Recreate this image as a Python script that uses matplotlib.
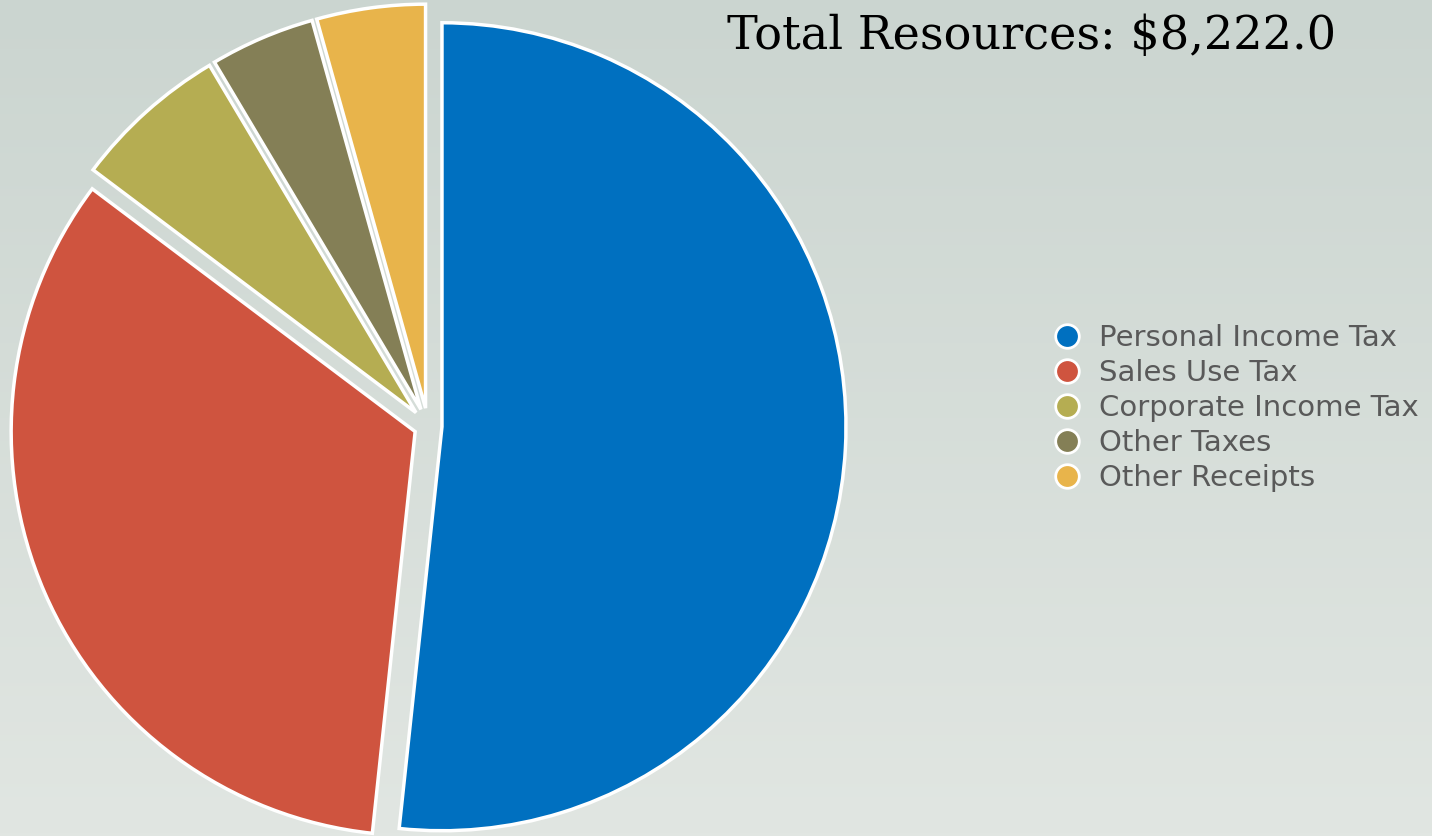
import numpy as np
import matplotlib
matplotlib.use("Agg")
import matplotlib.pyplot as plt
from matplotlib.lines import Line2D

# data (millions of $)
categories = ["Personal Income Tax", "Sales Use Tax", "Corporate Income Tax",
              "Other Taxes", "Other Receipts"]
values = [4250, 2760, 510, 345, 357]
colors = ["#0070C0", "#CF543F", "#B5AD52", "#847F56", "#E8B44B"]
total_label = "Total Resources: $8,222.0"

W, H = 1432, 836
fig = plt.figure(figsize=(W / 100, H / 100), dpi=100)

# background gradient
bg = fig.add_axes([0, 0, 1, 1], zorder=0)
top = np.array([0xCB, 0xD5, 0xD0]) / 255
bot = np.array([0xE1, 0xE6, 0xE2]) / 255
t = np.linspace(0, 1, 256)[:, None]
grad = top[None, :] * (1 - t) + bot[None, :] * t
bg.imshow(grad[:, None, :], aspect="auto", extent=[0, 1, 0, 1])
bg.axis("off")

# pie, in pixel units
ax = fig.add_axes([0, 0, 1, 1], zorder=1)
ax.patch.set_alpha(0)
wedges, _ = ax.pie(values, colors=colors, startangle=90, counterclock=False,
                   center=(428, H - 426), radius=404,
                   explode=[14, 14, 18, 18, 18],
                   wedgeprops=dict(edgecolor="white", linewidth=2.5))
ax.set_xlim(0, W)
ax.set_ylim(0, H)
ax.set_aspect("equal")
ax.axis("off")

fig.text(1032 / W, 1 - 36 / H, total_label, fontsize=33.3, family="DejaVu Serif",
         ha="center", va="center", color="black")

handles = [Line2D([], [], linestyle="none", marker="o", markersize=17,
                  markerfacecolor=c, markeredgecolor="white", markeredgewidth=2)
           for c in colors]
fig.legend(handles, categories, loc="center left",
           bbox_to_anchor=(1052 / W, 1 - 408 / H), frameon=False,
           labelcolor="#595959", handlelength=1.0,
           handletextpad=0.6, labelspacing=0.24, borderpad=0, borderaxespad=0,
           prop=dict(family="DejaVu Sans", size=21))

fig.savefig("out.png", dpi=100)
